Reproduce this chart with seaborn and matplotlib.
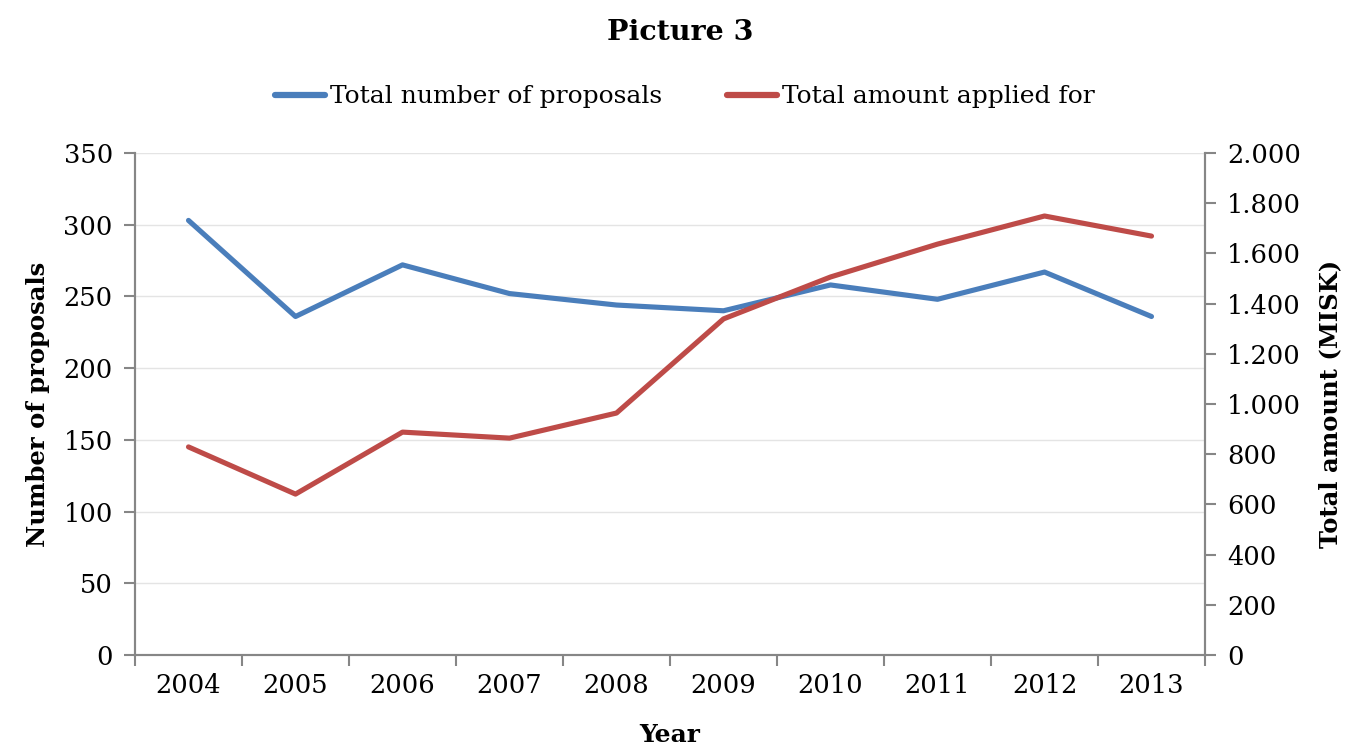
import matplotlib
matplotlib.use("Agg")
import matplotlib.pyplot as plt
import matplotlib.ticker as mticker
import seaborn as sns
import pandas as pd

years = ["2004", "2005", "2006", "2007", "2008", "2009", "2010", "2011", "2012", "2013"]
proposals = [303, 236, 272, 252, 244, 240, 258, 248, 267, 236]
amount = [829, 641, 888, 864, 964, 1339, 1506, 1637, 1749, 1669]

left_ticks = [0, 50, 100, 150, 200, 250, 300, 350]
right_ticks = [0, 200, 400, 600, 800, 1000, 1200, 1400, 1600, 1800, 2000]

sns.set_theme(style="white")
plt.rcParams['font.family'] = ['DejaVu Serif']
plt.rcParams['text.color'] = 'black'
plt.rcParams['axes.labelcolor'] = 'black'
plt.rcParams['xtick.color'] = 'black'
plt.rcParams['ytick.color'] = 'black'

BLUE = "#4A7EBB"
RED = "#BE4B48"
SPINE = "#868686"
GRID = "#E4E4E4"
FS = 18.5

df = pd.DataFrame({"x": list(range(len(years))), "proposals": proposals, "amount": amount})

fig = plt.figure(figsize=(13.45, 7.47), dpi=100)
ax = fig.add_axes([135/1345, 1-655/747, (1205-135)/1345, (655-153)/747])
ax2 = ax.twinx()

sns.lineplot(data=df, x="x", y="proposals", ax=ax, color=BLUE, linewidth=3.7,
             label="Total number of proposals", legend=False, solid_capstyle="round")
sns.lineplot(data=df, x="x", y="amount", ax=ax2, color=RED, linewidth=3.7,
             label="Total amount applied for", legend=False, solid_capstyle="round")

ax.set_xlim(-0.5, len(years) - 0.5)
ax.set_ylim(0, 350)
ax2.set_ylim(0, 2000)
ax.set_yticks(left_ticks)
ax2.set_yticks(right_ticks)
ax2.yaxis.set_major_formatter(mticker.FuncFormatter(lambda v, p: f"{int(v):,}".replace(",", ".")))

ax.set_xticks([i - 0.5 for i in range(len(years) + 1)])
ax.set_xticklabels([])
ax.set_xticks(list(range(len(years))), minor=True)
ax.set_xticklabels(years, minor=True)
ax.tick_params(axis="x", which="major", bottom=True, direction="out", length=8, width=1.5, color=SPINE)
ax.tick_params(axis="x", which="minor", bottom=True, length=0, labelsize=FS, pad=13, labelcolor="black")
ax.tick_params(axis="y", left=True, direction="out", length=8, width=1.5, color=SPINE,
               labelsize=FS, pad=8, labelcolor="black")
ax2.tick_params(axis="y", right=True, direction="out", length=8, width=1.5, color=SPINE,
                labelsize=FS, pad=8, labelcolor="black")

ax.grid(axis="y", color=GRID, linewidth=1)
ax.set_axisbelow(True)

for a in (ax, ax2):
    a.spines["top"].set_visible(False)
    for s in ("left", "right", "bottom"):
        a.spines[s].set_color(SPINE)
        a.spines[s].set_linewidth(1.5)

ax.set_xlabel("")
ax.set_ylabel("Number of proposals", fontsize=17.5, fontweight="bold", labelpad=10, color="black")
ax2.set_ylabel("Total amount (MISK)", fontsize=17.5, fontweight="bold", labelpad=12, color="black")
fig.text(670/1345, 1-735/747, "Year", ha="center", va="center", fontsize=18, fontweight="bold")

fig.text(680/1345, 1-33/747, "Picture 3", ha="center", va="center", fontsize=20.5, fontweight="bold")

h1, l1 = ax.get_legend_handles_labels()
h2, l2 = ax2.get_legend_handles_labels()
leg = fig.legend(h1 + h2, l1 + l2, loc="center", bbox_to_anchor=(685/1345, 1-97/747), ncol=2,
                 frameon=False, fontsize=18, handlelength=2.0, handletextpad=0.2, columnspacing=2.6)
for line in leg.get_lines():
    line.set_linewidth(4.5)

fig.savefig("out.png", dpi=100)
